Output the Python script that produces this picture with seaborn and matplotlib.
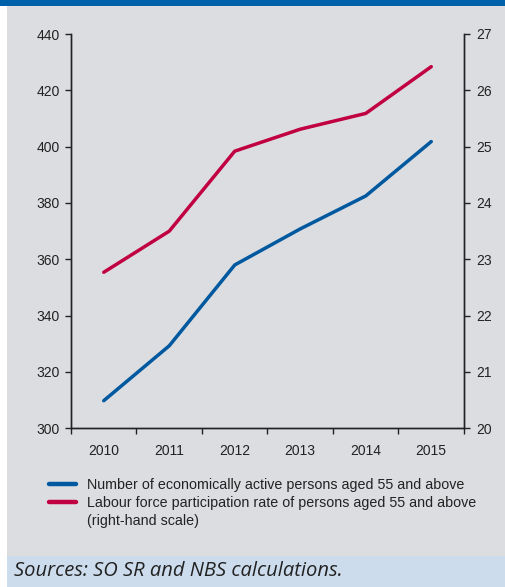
import matplotlib
matplotlib.use("Agg")
import matplotlib.pyplot as plt
from matplotlib.lines import Line2D
from matplotlib.patches import Rectangle
import seaborn as sns
import pandas as pd
import numpy as np

years = ["2010", "2011", "2012", "2013", "2014", "2015"]
active_persons = [309.8, 329.3, 358.0, 370.8, 382.5, 401.8]
participation_rate = [22.77, 23.50, 24.92, 25.31, 25.59, 26.42]
left_ticks = [300, 320, 340, 360, 380, 400, 420, 440]
right_ticks = [20, 21, 22, 23, 24, 25, 26, 27]
label_blue = "Number of economically active persons aged 55 and above"
label_red = "Labour force participation rate of persons aged 55 and above"
label_red2 = "(right-hand scale)"
source_text = "Sources: SO SR and NBS calculations."

BG = "#dcdde1"
BLUE = "#00589f"
RED = "#c00040"
TXT = "#222222"

sns.set_theme(style="white")
plt.rcParams["font.family"] = ["Liberation Sans", "DejaVu Sans"]

df = pd.DataFrame({"pos": np.arange(len(years)),
                   "active": active_persons,
                   "rate": participation_rate})

fig = plt.figure(figsize=(5.06, 5.87), dpi=100, facecolor=BG)
# white strip on left, header band, footer band
fig.patches.append(Rectangle((0, 0), 7 / 506, 1, transform=fig.transFigure,
                             facecolor="white", edgecolor="none", zorder=0))
fig.patches.append(Rectangle((0, 1 - 6 / 587), 1, 6 / 587, transform=fig.transFigure,
                             facecolor="#0061ab", edgecolor="none", zorder=1))
fig.patches.append(Rectangle((7 / 506, 0), 1, 31 / 587, transform=fig.transFigure,
                             facecolor="#cddcec", edgecolor="none", zorder=1))

ax = fig.add_axes([71 / 506, (587 - 428.3) / 587, (464 - 71) / 506, (428.3 - 34) / 587])
ax.set_facecolor(BG)
ax2 = ax.twinx()

sns.lineplot(data=df, x="pos", y="active", ax=ax, color=BLUE, linewidth=2.5,
             solid_capstyle="round")
sns.lineplot(data=df, x="pos", y="rate", ax=ax2, color=RED, linewidth=2.5,
             solid_capstyle="round")

ax.set_xlim(-0.5, len(years) - 0.5)
ax.set_ylim(300, 440)
ax2.set_ylim(20, 27)
ax.set_yticks(left_ticks)
ax2.set_yticks(right_ticks)
ax.set_xticks(np.arange(len(years) + 1) - 0.5)
ax.set_xticklabels([])
ax.set_xticks(np.arange(len(years)), minor=True)
ax.set_xticklabels(years, minor=True)
ax.set_xlabel("")
ax.set_ylabel("")
ax2.set_ylabel("")

for a in (ax, ax2):
    for s in a.spines.values():
        s.set_color("#222222")
        s.set_linewidth(1.0)
    a.spines["top"].set_visible(False)

ax.tick_params(axis="x", which="major", direction="out", length=4, width=1.0,
               color="#222222", bottom=True)
ax.tick_params(axis="x", which="minor", length=0, pad=11, labelsize=10,
               labelcolor=TXT, bottom=True)
ax.tick_params(axis="y", direction="out", length=4, width=1.0, color="#222222",
               pad=4, labelsize=10, labelcolor=TXT, left=True)
ax2.tick_params(axis="y", direction="out", length=4, width=1.0, color="#222222",
                pad=5, labelsize=10, labelcolor=TXT, right=True)

handles = [Line2D([], [], color=BLUE, linewidth=3.2),
           Line2D([], [], color=RED, linewidth=3.2),
           Line2D([], [], color=BG, linewidth=0)]
leg = fig.legend(handles, [label_blue, label_red, label_red2],
                 loc="upper left", bbox_to_anchor=(43 / 506, 1 - 472 / 587),
                 frameon=False, fontsize=10.3, handlelength=1.9, handletextpad=0.8,
                 labelspacing=0.3, labelcolor=TXT, borderaxespad=0)

fig.text(14 / 506, 1 - 571 / 587, source_text, fontsize=14.5, style="italic",
         color=TXT, family=["Open Sans", "DejaVu Sans"], va="center", ha="left")

fig.savefig("out.png", dpi=100, facecolor=BG)
